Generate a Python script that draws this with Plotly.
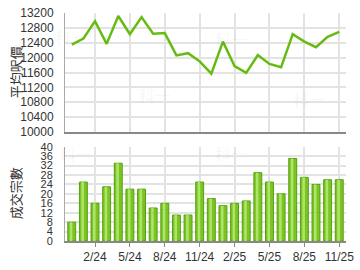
import plotly.graph_objects as go

months = ["12/23", "1/24", "2/24", "3/24", "4/24", "5/24", "6/24", "7/24", "8/24", "9/24",
          "10/24", "11/24", "12/24", "1/25", "2/25", "3/25", "4/25", "5/25", "6/25", "7/25",
          "8/25", "9/25", "10/25", "11/25"]
avg_price = [12350, 12510, 12980, 12370, 13120, 12630, 13090, 12640, 12660, 12060,
             12120, 11900, 11570, 12430, 11770, 11590, 12070, 11830, 11740, 12630,
             12430, 12280, 12560, 12690]
volume = [8, 25, 16, 23, 33, 22, 22, 14, 16, 11,
          11, 25, 18, 15, 16, 17, 29, 25, 20, 35,
          27, 24, 26, 26]
tick_labels = ["2/24", "5/24", "8/24", "11/24", "2/25", "5/25", "8/25", "11/25"]

x_idx = list(range(len(months)))
tick_pos = [months.index(t) for t in tick_labels]

fig = go.Figure()
fig.add_trace(go.Scatter(x=x_idx, y=avg_price, mode="lines",
                         line=dict(color="#66bb11", width=2.5),
                         xaxis="x", yaxis="y", hoverinfo="skip"))
fig.add_trace(go.Bar(x=x_idx, y=volume, width=0.68,
                     marker=dict(color="#7cc424", line=dict(color="#55a010", width=1)),
                     xaxis="x2", yaxis="y2", hoverinfo="skip"))
fig.add_trace(go.Bar(x=x_idx, y=volume, width=0.22, offset=-0.17,
                     marker=dict(color="#ade46a", line=dict(width=0)),
                     xaxis="x2", yaxis="y2", hoverinfo="skip"))

tickfont = dict(family="Liberation Sans, Arial, sans-serif", size=12, color="#333333")
xr = [-0.58, 23.58]
grid = "#e3e3e3"

fig.update_layout(
    width=360, height=270,
    margin=dict(l=65, r=6, t=7, b=26),
    paper_bgcolor="white", plot_bgcolor="white",
    showlegend=False, barmode="overlay",
    xaxis=dict(domain=[0, 1], range=xr, tickvals=tick_pos, showticklabels=False,
               showgrid=True, gridcolor=grid, gridwidth=1.5, zeroline=False,
               showline=True, linecolor="#888888", linewidth=2, anchor="y", ticks=""),
    yaxis=dict(domain=[0.478, 1], range=[10000, 13200], dtick=400, tickformat="d",
               tickfont=tickfont, showgrid=True, gridcolor=grid, gridwidth=1.5,
               zeroline=False, showline=True, linecolor="#aaaaaa", linewidth=1,
               anchor="x", ticks="", ticklabelstandoff=8),
    xaxis2=dict(domain=[0, 1], range=xr, tickvals=tick_pos, ticktext=tick_labels,
                tickfont=tickfont, showgrid=True, gridcolor=grid, gridwidth=1.5,
                zeroline=False, showline=True, linecolor="#888888", linewidth=1.5,
                ticks="outside", ticklen=4, tickcolor="#888888", anchor="y2",
                ticklabeloverflow="allow"),
    yaxis2=dict(domain=[0, 0.4135], range=[0, 40], dtick=4,
                tickfont=dict(family="Liberation Sans, Arial, sans-serif", size=11, color="#333333"),
                showgrid=True, gridcolor=grid, gridwidth=1.5, zeroline=False,
                showline=True, linecolor="#aaaaaa", linewidth=1, anchor="x2", ticks="",
                ticklabelstandoff=9),
)

title_font = dict(family="Noto Sans CJK TC", size=13, color="#333333")
fig.add_annotation(text="平均呎價", xref="paper", yref="paper", x=-0.176, y=0.738,
                   textangle=-90, showarrow=False, font=title_font, xanchor="center", yanchor="middle")
fig.add_annotation(text="成交宗數", xref="paper", yref="paper", x=-0.176, y=0.207,
                   textangle=-90, showarrow=False, font=title_font, xanchor="center", yanchor="middle")

# faint watermarks
wm_font = dict(family="Noto Sans CJK TC", size=16, color="rgba(0,0,0,0.05)")
for px, py in [(71, 32), (158, 92), (236, 34), (316, 96), (76, 154), (160, 211), (236, 153), (316, 214)]:
    fig.add_annotation(text="科一", xref="paper", yref="paper",
                       x=(px - 65) / 289, y=(244 - py) / 237, showarrow=False,
                       font=wm_font, xanchor="center", yanchor="middle")

fig.write_html("out.html")
